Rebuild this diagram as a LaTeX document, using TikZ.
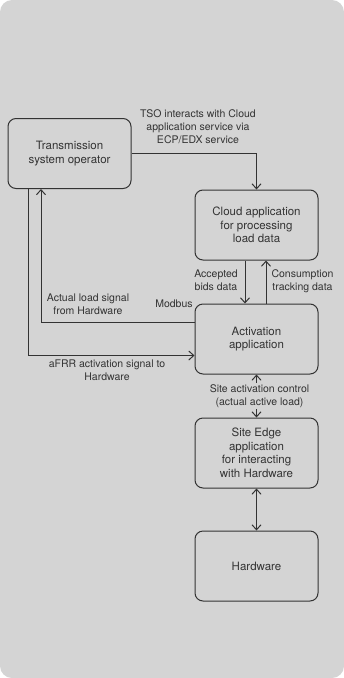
\documentclass[tikz,border=0pt]{standalone}
\usepackage{fontspec}
\setmainfont{TeX Gyre Heros}
\usepackage{tikz}
\usetikzlibrary{arrows.meta,positioning,calc}

\definecolor{bggray}{HTML}{D4D4D4}
\definecolor{inkgray}{HTML}{333333}

\begin{document}
\begin{tikzpicture}[
    x=1pt, y=1pt,
    >={Straight Barb[length=5pt,width=9pt]},
    every node/.style={
        text=inkgray,
        align=center
    },
    block/.style={
        draw=inkgray,
        line width=1pt,
        rounded corners=8pt,
        minimum width=123pt,
        minimum height=70pt,
        inner sep=2pt,
        font=\fontsize{11.5}{13.5}\selectfont
    },
    lbl/.style={
        font=\fontsize{10.5}{13}\selectfont,
        inner sep=1pt
    },
    connector/.style={
        draw=inkgray,
        line width=1pt
    }
]

% ============================================================
% Background
% ============================================================

\useasboundingbox (0,0) rectangle (344,-678);
\fill[bggray, rounded corners=12pt] (0,0) rectangle (344,-678);

% ============================================================
% Blocks
% ============================================================

\node[block] (tso) at (69.5,-153.5)
{Transmission\\
system operator};

\node[block] (cloud) at (256.5,-225)
{Cloud application\\
for processing\\
load data};

\node[block, below=43pt of cloud] (act)
{Activation\\
application};

\node[block, below=43pt of act] (edge)
{Site Edge\\
application\\
for interacting\\
with Hardware};

\node[block, below=42pt of edge] (hw)
{Hardware};

% ============================================================
% TSO <-> Cloud
% ============================================================

\draw[connector, ->]
(tso.east) -| (cloud.north);

\node[lbl] (ecplbl) at (198,-127)
{TSO interacts with Cloud\\
application service via\\
ECP/EDX service};

% ============================================================
% Cloud <-> Activation
% ============================================================

\draw[connector, ->]
([xshift=-11.5pt]cloud.south) -- ([xshift=-11.5pt]act.north);

\draw[connector, ->]
([xshift=9.5pt]act.north) -- ([xshift=9.5pt]cloud.south);

\node[lbl] (bidslbl) at (216,-280)
{Accepted\\
bids data};

\node[lbl] (tracklbl) at (302.5,-281.5)
{Consumption\\
tracking data};

% ============================================================
% Activation <-> TSO
% ============================================================

\draw[connector, ->]
([yshift=16.5pt]act.west) -| ([xshift=-28.5pt]tso.south);

\draw[connector, ->]
([xshift=-41.5pt]tso.south) |- ([yshift=-16.5pt]act.west);

\node[lbl] (loadlbl) at (88,-304.5)
{Actual load signal\\
from Hardware};

\node[lbl] (modbuslbl) at (174,-304)
{Modbus};

\node[lbl] (afrrlbl) at (107,-370.5)
{aFRR activation signal to\\
Hardware};

% ============================================================
% Activation <-> Site Edge <-> Hardware
% ============================================================

\draw[connector, <->]
(act.south) -- (edge.north)
node[lbl, midway, xshift=3pt, fill=bggray] (sitelbl)
{Site activation control\\
(actual active load)};

\draw[connector, <->]
(edge.south) -- (hw.north);

\end{tikzpicture}
\end{document}
